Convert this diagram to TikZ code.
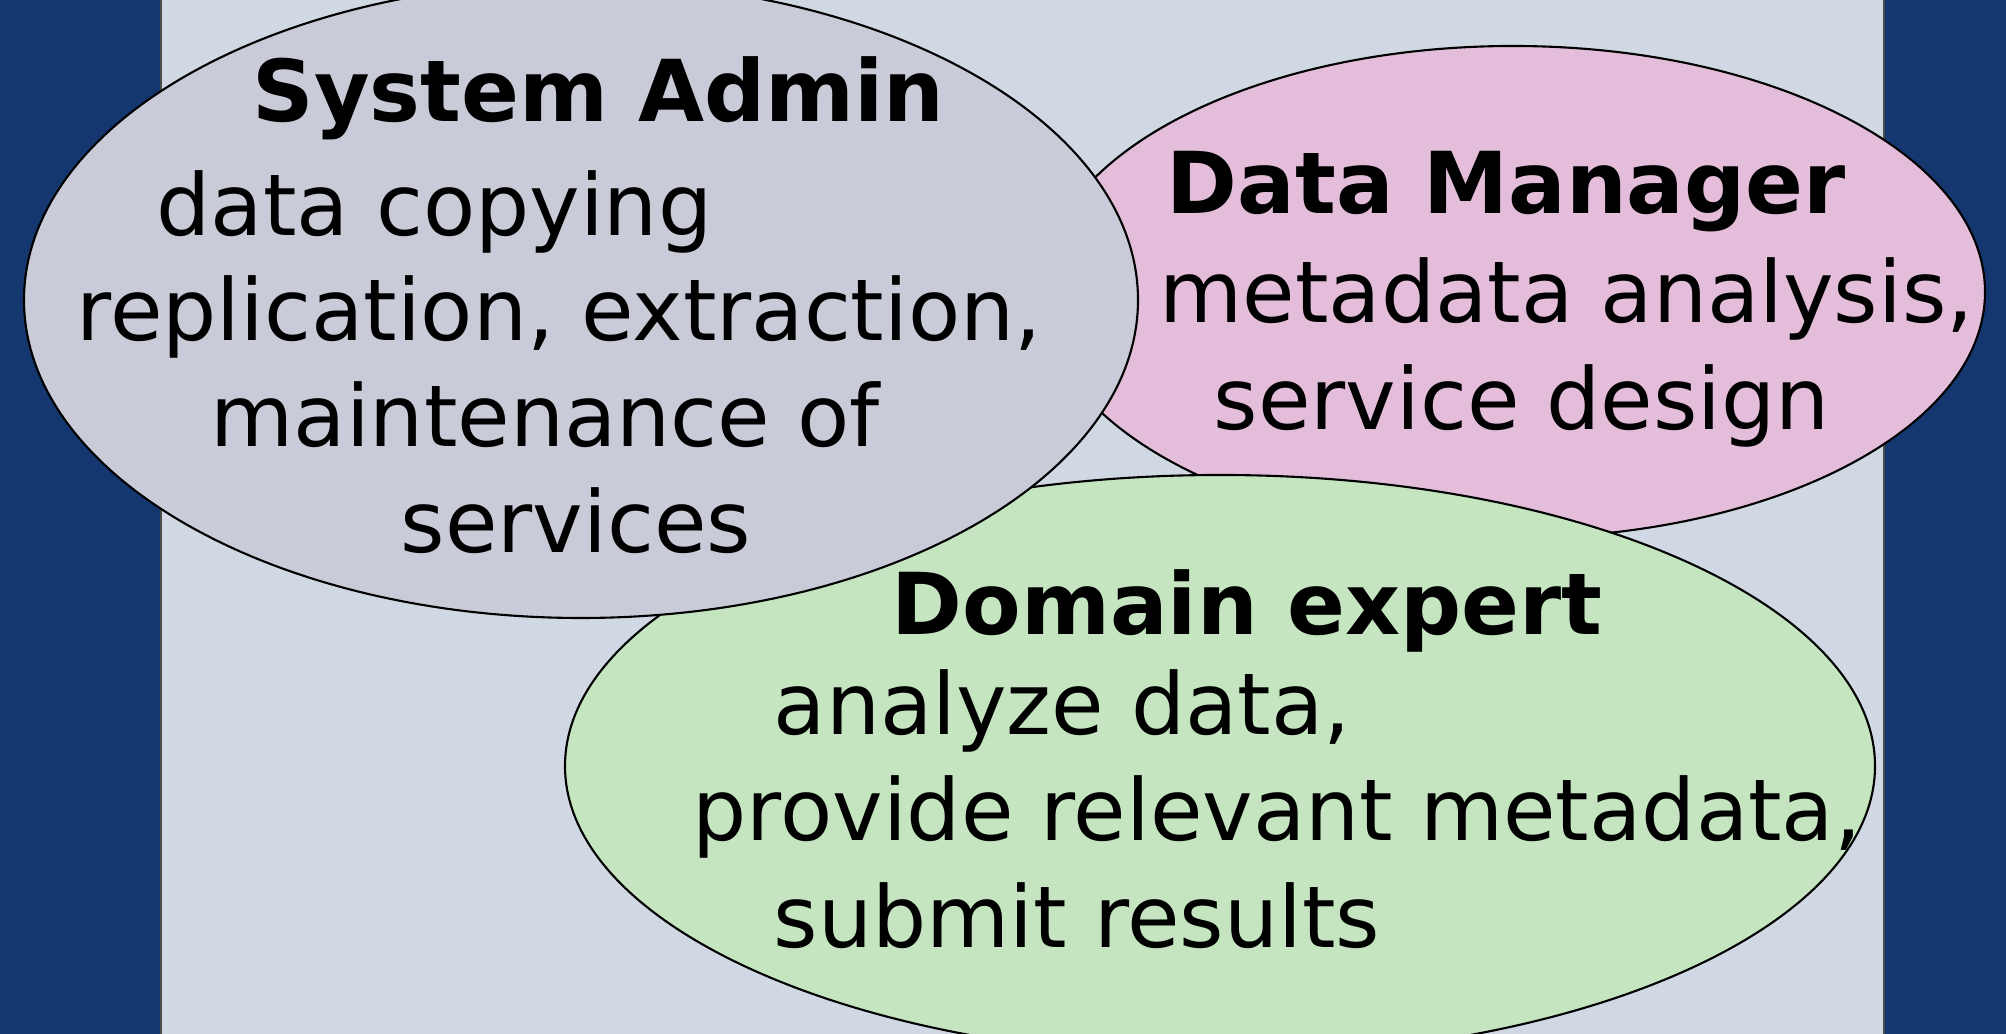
\documentclass[tikz,border=0pt]{standalone}
\usepackage{fontspec}
\setmainfont{DejaVu Sans}
\usepackage{xcolor}
\definecolor{RoleNavy}{RGB}{20, 55, 112}
\definecolor{RolePanel}{RGB}{208, 216, 227}
\definecolor{AdminGray}{RGB}{201, 203, 216}
\definecolor{ManagerPink}{RGB}{227, 189, 218}
\definecolor{ExpertGreen}{RGB}{197, 229, 193}
\usepackage{tikz}
\usetikzlibrary{shapes.geometric, positioning}

\begin{document}
\begin{tikzpicture}[
        role/.style={ellipse, draw=black, line width=0.6pt, inner sep=0pt},
        title/.style={anchor=base west, inner sep=0pt, font=\fontsize{24.3}{29}\selectfont\bfseries},
        task/.style={anchor=base west, inner sep=0pt, font=\fontsize{24.3}{29}\selectfont}
    ]
    \useasboundingbox (0,0) rectangle (20.06,10.34);
    \fill[RoleNavy] (0,0) rectangle (20.06,10.34);
    \filldraw[fill=RolePanel, draw=black!70, line width=0.4pt] (1.61,-0.1) rectangle (18.84,10.44);

    % the three roles, back to front
    \node[role, fill=ManagerPink, minimum width=9.44cm, minimum height=4.92cm] (manager) at (15.13,7.42) {};
    \node[role, fill=ExpertGreen, minimum width=13.10cm, minimum height=5.82cm] (expert) at (12.20,2.68) {};
    \node[role, fill=AdminGray, minimum width=11.14cm, minimum height=6.36cm] (admin) at (5.81,7.34) {};

    % system admin
    \node[title] (admintitle) at (2.52,9.12) {System Admin};
    \foreach \x/\y/\txt [count=\i] in {1.56/7.98/{data copying},
                                      0.76/6.93/{replication, extraction,},
                                      2.10/5.87/{maintenance of},
                                      4.00/4.81/{services}} {
        \node[task] (admin\i) at (\x,\y) {\txt};
    }

    % data manager
    \node[title] (managertitle) at (11.66,8.20) {Data Manager};
    \foreach \x/\y/\txt [count=\i] in {11.59/7.11/{metadata analysis,},
                                      12.13/6.04/{service design}} {
        \node[task] (manager\i) at (\x,\y) {\txt};
    }

    % domain expert
    \node[title] (experttitle) at (8.91,3.99) {Domain expert};
    \foreach \x/\y/\txt [count=\i] in {7.73/2.99/{analyze data,},
                                      6.92/1.93/{provide relevant metadata,},
                                      7.73/0.86/{submit results}} {
        \node[task] (expert\i) at (\x,\y) {\txt};
    }
\end{tikzpicture}
\end{document}
